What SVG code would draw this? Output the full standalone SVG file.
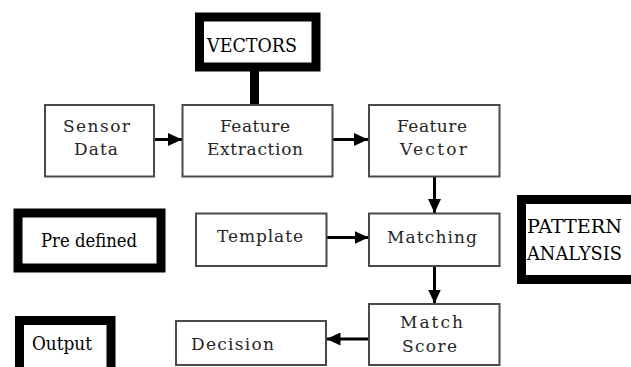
<svg xmlns="http://www.w3.org/2000/svg" width="631" height="367" viewBox="0 0 631 367">
<defs>
<style>
.box{fill:#fff;stroke:#4a4a4a;stroke-width:2}
.thick{fill:#fff;stroke:#000;stroke-width:9}
.lbl{font-family:'DejaVu Serif','Liberation Serif',serif;font-size:17px;fill:#262626}
.big{font-family:'DejaVu Serif','Liberation Serif',serif;font-size:19px;fill:#000}
.conn{stroke:#000;stroke-width:3;fill:none;marker-end:url(#ah)}
</style>
<marker id="ah" viewBox="0 0 14 13" refX="14" refY="6.5" markerWidth="14" markerHeight="13" markerUnits="userSpaceOnUse" orient="auto">
<path d="M0,0 L14,6.5 L0,13 Z" fill="#000"/>
</marker>
</defs>
<rect width="631" height="367" fill="#fff"/>
<g id="connectors">
<line x1="254.5" y1="67" x2="254.5" y2="105" stroke="#000" stroke-width="9"/>
<line class="conn" x1="154" y1="139.5" x2="182" y2="139.5"/>
<line class="conn" x1="333" y1="139.5" x2="368" y2="139.5"/>
<line class="conn" x1="434.5" y1="177" x2="434.5" y2="213"/>
<line class="conn" x1="327" y1="237.5" x2="368.5" y2="237.5"/>
<line class="conn" x1="434.5" y1="266" x2="434.5" y2="303.5"/>
<line class="conn" x1="369" y1="339" x2="326.5" y2="339"/>
</g>
<g id="vectors">
<rect class="thick" x="199.5" y="17" width="116.5" height="50"/>
<text class="big" x="207" y="52" textLength="90" lengthAdjust="spacingAndGlyphs">VECTORS</text>
</g>
<g id="sensor-data">
<rect class="box" x="45" y="105" width="109" height="71.5"/>
<text class="lbl" x="63" y="131.5" textLength="67" lengthAdjust="spacing">Sensor</text>
<text class="lbl" x="74" y="155" textLength="44" lengthAdjust="spacing">Data</text>
</g>
<g id="feature-extraction">
<rect class="box" x="182.5" y="105" width="150" height="71.5"/>
<text class="lbl" x="220" y="131.5" textLength="70" lengthAdjust="spacing">Feature</text>
<text class="lbl" x="207" y="155" textLength="96" lengthAdjust="spacing">Extraction</text>
</g>
<g id="feature-vector">
<rect class="box" x="369" y="105" width="130.5" height="71.5"/>
<text class="lbl" x="397" y="131.5" textLength="70" lengthAdjust="spacing">Feature</text>
<text class="lbl" x="400" y="155" textLength="67" lengthAdjust="spacing">Vector</text>
</g>
<g id="pre-defined">
<rect class="thick" x="18" y="213" width="143" height="55"/>
<text class="big" x="41" y="246.5" textLength="96" lengthAdjust="spacingAndGlyphs">Pre defined</text>
</g>
<g id="template">
<rect class="box" x="196" y="213.5" width="130.5" height="52.5"/>
<text class="lbl" x="217" y="242" textLength="86" lengthAdjust="spacing">Template</text>
</g>
<g id="matching">
<rect class="box" x="369" y="213.5" width="130.5" height="52.5"/>
<text class="lbl" x="387" y="243" textLength="90" lengthAdjust="spacing">Matching</text>
</g>
<g id="pattern-analysis">
<rect class="thick" x="521.5" y="199.5" width="140" height="80"/>
<text class="big" x="527" y="233" textLength="95" lengthAdjust="spacingAndGlyphs">PATTERN</text>
<text class="big" x="527" y="260" textLength="95" lengthAdjust="spacingAndGlyphs">ANALYSIS</text>
</g>
<g id="match-score">
<rect class="box" x="369" y="304" width="130.5" height="61"/>
<text class="lbl" x="400" y="328" textLength="63" lengthAdjust="spacing">Match</text>
<text class="lbl" x="402" y="352" textLength="55" lengthAdjust="spacing">Score</text>
</g>
<g id="output">
<rect class="thick" x="19.5" y="320.5" width="91.5" height="60"/>
<text class="big" x="32" y="349.5" textLength="60" lengthAdjust="spacingAndGlyphs">Output</text>
</g>
<g id="decision">
<rect class="box" x="176" y="321" width="150" height="44"/>
<text class="lbl" x="191" y="349.5" textLength="83" lengthAdjust="spacing">Decision</text>
</g>
</svg>
